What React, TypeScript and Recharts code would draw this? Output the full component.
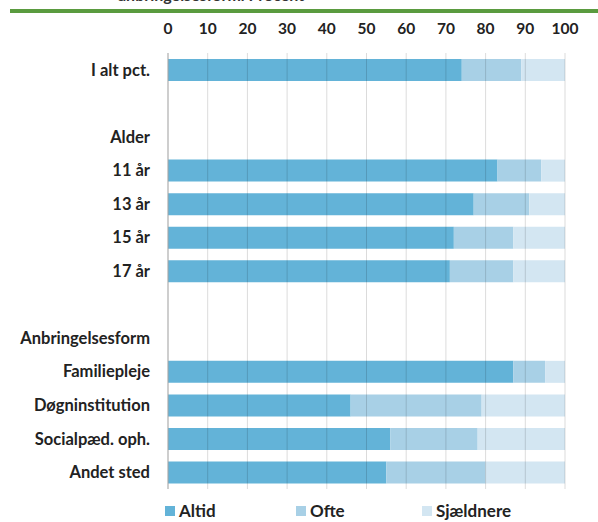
import React from 'react';
import { BarChart, Bar, XAxis, YAxis, CartesianGrid, Legend } from 'recharts';

const categories = ['I alt pct.', '', 'Alder', '11 år', '13 år', '15 år', '17 år', ' ', 'Anbringelsesform', 'Familiepleje', 'Døgninstitution', 'Socialpæd. oph.', 'Andet sted'];
const altid = [74, null, null, 83, 77, 72, 71, null, null, 87, 46, 56, 55];
const ofte = [15, null, null, 11, 14, 15, 16, null, null, 8, 33, 22, 25];
const sjaeldnere = [11, null, null, 6, 9, 13, 13, null, null, 5, 21, 22, 20];
const xTicks = [0, 10, 20, 30, 40, 50, 60, 70, 80, 90, 100];
const seriesNames = ['Altid', 'Ofte', 'Sjældnere'];
const colors = ['#63b3d8', '#a8d0e6', '#d3e6f2'];

const data = categories.map((name, i) => ({
  name,
  Altid: altid[i],
  Ofte: ofte[i],
  'Sjældnere': sjaeldnere[i],
}));

const FONT = 'Lato, "Open Sans", sans-serif';

const legendPos = [165, 296, 422];

const LegendContent = () => (
  <div style={{ position: 'relative', width: 598, height: 20 }}>
    {seriesNames.map((n, i) => (
      <div key={n} style={{ position: 'absolute', left: legendPos[i], top: 0, display: 'flex', alignItems: 'center' }}>
        <div style={{ width: 10, height: 10, background: colors[i], marginRight: 4 }} />
        <span style={{ fontFamily: FONT, fontWeight: 700, fontSize: 17, color: '#222', lineHeight: '20px' }}>{n}</span>
      </div>
    ))}
  </div>
);

export default function App() {
  return (
    <div style={{ position: 'absolute', left: 0, top: 0, width: 598, height: 522, background: '#fff', overflow: 'hidden' }}>
      <div style={{ position: 'absolute', left: 10, top: 9, width: 588, height: 4, background: '#5a9b3f' }} />
      <div style={{ position: 'absolute', left: 118, top: -15, fontFamily: FONT, fontWeight: 700, fontSize: 16, color: '#333', whiteSpace: 'nowrap' }}>
        anbringelsesform. Procent
      </div>
      <BarChart
        width={598}
        height={522}
        data={data}
        layout="vertical"
        margin={{ top: 23, right: 33, bottom: 13, left: 0 }}
        barSize={22}
      >
        <XAxis
          type="number"
          orientation="top"
          domain={[0, 100]}
          ticks={xTicks}
          height={30}
          axisLine={false}
          tickLine={false}
          tickSize={0}
          tickMargin={19}
          interval={0}
          tick={{ fontFamily: FONT, fontWeight: 700, fontSize: 15.5, fill: '#222' }}
        />
        <YAxis
          type="category"
          dataKey="name"
          width={168}
          axisLine={{ stroke: '#bdbdbd' }}
          tickLine={false}
          tickSize={0}
          tickMargin={18}
          interval={0}
          tick={{ fontFamily: FONT, fontWeight: 700, fontSize: 16.5, fill: '#222' }}
        />
        {seriesNames.map((n, i) => (
          <Bar key={n} dataKey={n} stackId="a" fill={colors[i]} isAnimationActive={false} />
        ))}
        <CartesianGrid horizontal={false} stroke="rgba(0,0,0,0.14)" zIndex={500} />
        <Legend verticalAlign="bottom" content={<LegendContent />} wrapperStyle={{ left: 0, top: 501, width: 598 }} />
      </BarChart>
    </div>
  );
}
